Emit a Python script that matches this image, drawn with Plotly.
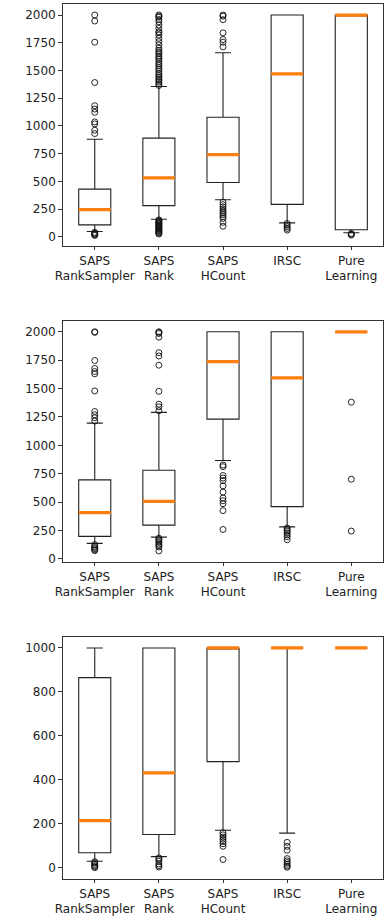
import plotly.graph_objects as go

categories = ["SAPS<br>RankSampler", "SAPS<br>Rank", "SAPS<br>HCount", "IRSC", "Pure<br>Learning"]
positions = [1, 2, 3, 4, 5]

# Panel 1 statistics
p1_q1 = [107, 281, 490, 292, 63]
p1_med = [245, 531, 740, 1469, 2000]
p1_q3 = [430, 890, 1078, 2000, 2000]
p1_lo = [48, 158, 334, 125, 36]
p1_hi = [880, 1355, 1660, 2000, 2000]
p1_out = [
    [2000, 1946, 1755, 1391, 1182, 1152, 1122, 1036, 1018, 961, 931, 40, 32, 25, 18, 12],
    [1365, 1380, 1395, 1410, 1425, 1440, 1455, 1470, 1490, 1510, 1525, 1545, 1560, 1580,
     1600, 1615, 1630, 1650, 1665, 1680, 1700, 1730, 1760, 1790, 1820, 1840, 1850, 1880,
     1910, 1940, 1960, 1980, 1990, 2000,
     152, 145, 138, 130, 122, 115, 108, 100, 92, 85, 78, 70, 62, 55, 48, 40, 33, 25],
    [2000, 1990, 1958, 1839, 1779, 1755, 1713,
     312, 290, 270, 250, 232, 215, 200, 182, 165, 130, 95],
    [120, 105, 90, 75, 60],
    [30, 22, 15],
]

# Panel 2 statistics
p2_q1 = [198, 297, 1231, 460, 2000]
p2_med = [408, 507, 1738, 1595, 2000]
p2_q3 = [696, 780, 2000, 2000, 2000]
p2_lo = [137, 192, 867, 282, 2000]
p2_hi = [1196, 1290, 2000, 2000, 2000]
p2_out = [
    [2000, 1995, 1747, 1677, 1650, 1630, 1479, 1298, 1269, 1243, 1214,
     125, 110, 100, 90, 80, 73],
    [2000, 1995, 1985, 1953, 1816, 1787, 1706, 1476, 1362, 1339, 1305,
     182, 170, 158, 145, 130, 118, 105, 70],
    [827, 812, 734, 712, 690, 643, 588, 536, 512, 486, 425, 259],
    [272, 258, 245, 230, 212, 195, 169],
    [1380, 702, 245],
]

# Panel 3 statistics
p3_q1 = [69, 152, 483, 1000, 1000]
p3_med = [215, 432, 1000, 1000, 1000]
p3_q3 = [865, 1000, 1000, 1000, 1000]
p3_lo = [30, 51, 171, 158, 1000]
p3_hi = [1000, 1000, 1000, 1000, 1000]
p3_out = [
    [28, 22, 16, 10, 5, 1],
    [45, 38, 30, 18, 10, 4],
    [160, 150, 140, 130, 120, 110, 98, 38],
    [116, 98, 80, 42, 32, 24, 16, 8, 3],
    [],
]

y_ranges = [[-80, 2097], [-26, 2096], [-50, 1052]]
y_dticks = [250, 250, 200]

W, H = 387, 917
x_dom = [56.7 / W, 383.3 / W]
y_px = [(4.3, 246.7), (322.3, 564.3), (639.3, 882.7)]

BOX_W = 0.5
ORANGE = "#ff7f0e"

fig = go.Figure()
panels = [
    (p1_q1, p1_med, p1_q3, p1_lo, p1_hi, p1_out),
    (p2_q1, p2_med, p2_q3, p2_lo, p2_hi, p2_out),
    (p3_q1, p3_med, p3_q3, p3_lo, p3_hi, p3_out),
]

for k, (q1, med, q3, lo, hi, outs) in enumerate(panels):
    xa = "x" if k == 0 else f"x{k+1}"
    ya = "y" if k == 0 else f"y{k+1}"
    fig.add_trace(go.Box(
        x=positions, q1=q1, median=med, q3=q3, lowerfence=lo, upperfence=hi,
        boxpoints=False, width=BOX_W, whiskerwidth=0.5,
        fillcolor="rgba(0,0,0,0)", line=dict(color="#222222", width=1.1),
        xaxis=xa, yaxis=ya, showlegend=False, hoverinfo="skip",
    ))
    # outliers
    ox, oy = [], []
    for p, vals in zip(positions, outs):
        for v in vals:
            ox.append(p)
            oy.append(v)
    if ox:
        fig.add_trace(go.Scatter(
            x=ox, y=oy, mode="markers",
            marker=dict(symbol="circle-open", size=6, color="#111111", line=dict(width=0.9)),
            xaxis=xa, yaxis=ya, showlegend=False, hoverinfo="skip",
        ))
    # median lines
    mx, my = [], []
    for p, m in zip(positions, med):
        mx += [p - BOX_W / 2, p + BOX_W / 2, None]
        my += [m, m, None]
    fig.add_trace(go.Scatter(
        x=mx, y=my, mode="lines", line=dict(color=ORANGE, width=3.2),
        xaxis=xa, yaxis=ya, showlegend=False, hoverinfo="skip",
    ))

layout = dict(
    width=W, height=H, margin=dict(l=0, r=0, t=0, b=0),
    paper_bgcolor="white", plot_bgcolor="white",
    font=dict(family="DejaVu Sans", size=12, color="#222222"),
)
for k in range(3):
    top, bot = y_px[k]
    xkey = "xaxis" if k == 0 else f"xaxis{k+1}"
    ykey = "yaxis" if k == 0 else f"yaxis{k+1}"
    anchor_y = "y" if k == 0 else f"y{k+1}"
    anchor_x = "x" if k == 0 else f"x{k+1}"
    layout[xkey] = dict(
        domain=x_dom, anchor=anchor_y, range=[0.5, 5.5],
        tickmode="array", tickvals=positions, ticktext=categories,
        showline=True, mirror=True, linecolor="#333333", linewidth=1,
        ticks="outside", ticklen=3.5, tickcolor="#333333",
        tickfont=dict(size=12),
        showgrid=False, zeroline=False, fixedrange=True,
    )
    layout[ykey] = dict(
        domain=[1 - bot / H, 1 - top / H], anchor=anchor_x, range=y_ranges[k],
        tick0=0, dtick=y_dticks[k],
        showline=True, mirror=True, linecolor="#333333", linewidth=1,
        ticks="outside", ticklen=3.5, tickcolor="#333333",
        tickfont=dict(size=12),
        showgrid=False, zeroline=False, fixedrange=True,
    )
fig.update_layout(**layout)

fig.write_html("out.html")
